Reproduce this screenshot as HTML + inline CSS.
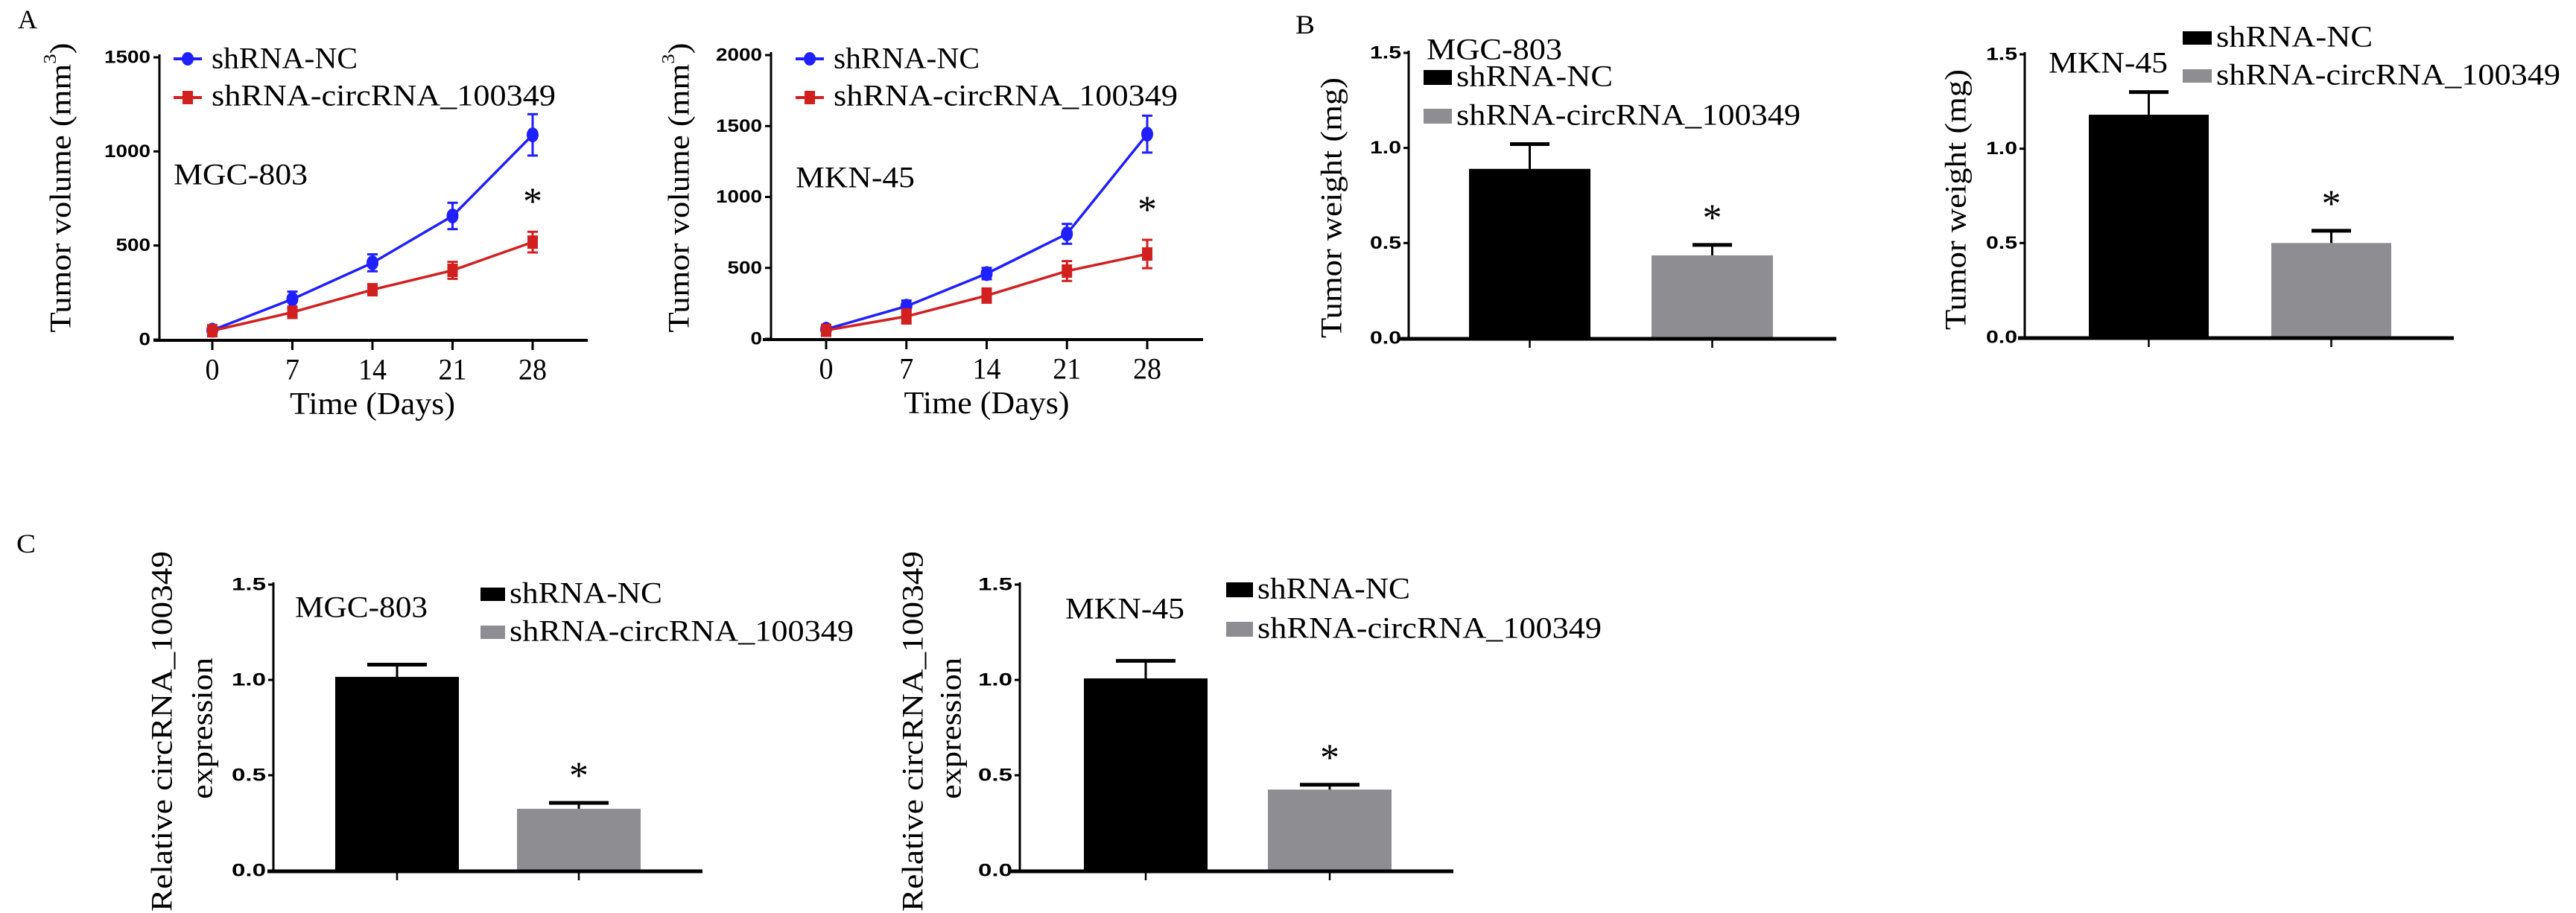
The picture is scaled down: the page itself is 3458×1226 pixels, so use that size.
<!DOCTYPE html>
<html><head><meta charset="utf-8"><style>
html,body{margin:0;padding:0;background:#fff;}
svg{display:block;}
text{font-family:"Liberation Serif",serif;fill:#000;}
.tk{font-family:"Liberation Sans",sans-serif;font-weight:bold;}
</style></head><body>
<svg id="fig" width="3458" height="1226" viewBox="0 0 3458 1226" xmlns="http://www.w3.org/2000/svg"></svg>
<script>
// ---- Data ----
const days = [0, 7, 14, 21, 28];
const mgcVolNC = [50, 215, 408, 657, 1088];
const mgcVolNCErr = [10, 40, 45, 70, 110];
const mgcVolKD = [47, 145, 265, 368, 518];
const mgcVolKDErr = [10, 30, 25, 45, 55];
const mknVolNC = [68, 230, 460, 740, 1443];
const mknVolNCErr = [10, 40, 40, 70, 130];
const mknVolKD = [60, 158, 305, 478, 598];
const mknVolKDErr = [10, 50, 50, 70, 100];
const volTicksA1 = [0, 500, 1000, 1500];
const volTicksA2 = [0, 500, 1000, 1500, 2000];
const barTicks = [0, 0.5, 1.0, 1.5];
const barTickLabels = ["0.0", "0.5", "1.0", "1.5"];
const groups = ["shRNA-NC", "shRNA-circRNA_100349"];
const weightMGC = [0.89, 0.435];
const weightMGCErr = [0.13, 0.055];
const weightMKN = [1.18, 0.50];
const weightMKNErr = [0.12, 0.065];
const exprMGC = [1.016, 0.324];
const exprMGCErr = [0.064, 0.031];
const exprMKN = [1.008, 0.425];
const exprMKNErr = [0.092, 0.025];

const NS = "http://www.w3.org/2000/svg";
const svg = document.getElementById('fig');
function el(tag, attrs, parent, txt) {
  const e = document.createElementNS(NS, tag);
  for (const k in attrs) e.setAttribute(k, attrs[k]);
  if (txt !== undefined) e.textContent = txt;
  (parent || svg).appendChild(e);
  return e;
}
function lin(d0, d1, r0, r1) { return v => r0 + (v - d0) * (r1 - r0) / (d1 - d0); }

function label(x, y, s, size, opts) {
  opts = opts || {};
  const a = {x: x, y: y, 'font-size': size, 'dominant-baseline': 'central'};
  if (opts.anchor) a['text-anchor'] = opts.anchor;
  if (opts.len) { a.textLength = opts.len; a.lengthAdjust = 'spacingAndGlyphs'; }
  if (opts.cls) a['class'] = opts.cls;
  if (opts.rot) a.transform = 'rotate(-90 ' + x + ' ' + y + ')';
  const t = el('text', a, opts.parent, s);
  return t;
}

// panel letters
let t;
t = label(24, 26, 'A', 36, {len: 26});
 
t = label(1739, 33, 'B', 36, {len: 26});
 
t = label(22, 730, 'C', 36, {len: 26});
 

// ---- Line charts ----
function lineChart(cfg) {
  const g = el('g', {});
  
  
  const ys = lin(0, cfg.ymax, cfg.y0, cfg.ytop);
  const xs = lin(0, 28, cfg.xt0, cfg.xt1);
  // axes
  let a = el('line', {x1: cfg.ax, y1: cfg.ytop - 4, x2: cfg.ax, y2: cfg.y0 + 2, stroke: '#000', 'stroke-width': 3}, g);
   
  a = el('line', {x1: cfg.xa0, y1: cfg.y0 + 1, x2: cfg.xa1, y2: cfg.y0 + 1, stroke: '#000', 'stroke-width': 4}, g);
   
  cfg.yticks.forEach(v => {
    el('line', {x1: cfg.ax - 8, y1: ys(v), x2: cfg.ax, y2: ys(v), stroke: '#000', 'stroke-width': 3}, g);
    const s = String(v);
    const tl = label(cfg.ax - 12, ys(v), s, 24, {anchor: 'end', cls: 'tk', len: s.length * 15.5, parent: g});
     
  });
  days.forEach(d => {
    el('line', {x1: xs(d), y1: cfg.y0, x2: xs(d), y2: cfg.y0 + 14, stroke: '#000', 'stroke-width': 3}, g);
    const s = String(d);
    const tl = label(xs(d), cfg.y0 + 40, s, 40, {anchor: 'middle', len: s.length * 19, parent: g});
     
  });
  let tt = label((cfg.xt0 + cfg.xt1) / 2, cfg.y0 + 87, 'Time (Days)', 42, {anchor: 'middle', len: 222, parent: g});
   
  tt = el('text', {x: cfg.titleX, y: 252, 'font-size': 40, 'text-anchor': 'middle', 'dominant-baseline': 'central',
    transform: 'rotate(-90 ' + cfg.titleX + ' 252)', textLength: 389, lengthAdjust: 'spacingAndGlyphs'}, g);
  tt.appendChild(document.createTextNode('Tumor volume (mm'));
  const sup = el('tspan', {'baseline-shift': 'super', 'font-size': 24}, tt, '3');
  tt.appendChild(document.createTextNode(')'));
   
  tt = label(cfg.cellX, cfg.cellY, cfg.cell, 40, {len: cfg.cellLen, parent: g});
   

  function series(vals, errs, color, marker, nm) {
    const sg = el('g', {}, g);
     
    const pts = vals.map((v, i) => xs(days[i]) + ',' + ys(v)).join(' ');
    el('polyline', {points: pts, fill: 'none', stroke: color, 'stroke-width': 3.5}, sg);
    vals.forEach((v, i) => {
      const x = xs(days[i]), yh = ys(v + errs[i]), yl = ys(v - errs[i]);
      el('line', {x1: x, y1: yh, x2: x, y2: yl, stroke: color, 'stroke-width': 3}, sg);
      el('line', {x1: x - 7, y1: yh, x2: x + 7, y2: yh, stroke: color, 'stroke-width': 3}, sg);
      el('line', {x1: x - 7, y1: yl, x2: x + 7, y2: yl, stroke: color, 'stroke-width': 3}, sg);
      let m;
      if (marker === 'c') m = el('ellipse', {cx: x, cy: ys(v), rx: 8, ry: 10, fill: color}, sg);
      else m = el('rect', {x: x - 7, y: ys(v) - 9, width: 14, height: 18, fill: color}, sg);
       
    });
  }
  series(cfg.nc, cfg.ncErr, '#1f1fff', 'c', 'series-shrna-nc');
  series(cfg.kd, cfg.kdErr, '#d21f1f', 's', 'series-shrna-circrna');
  // star
  const last = cfg.kd.length - 1;
  tt = label(xs(days[last]), ys(cfg.kd[last] + cfg.kdErr[last]) - 40, '*', 52, {anchor: 'middle', parent: g});
   
  // legend
  const lx = cfg.lx;
  const lg1 = el('g', {}, g);
   
  el('line', {x1: lx, y1: 79, x2: lx + 38, y2: 79, stroke: '#1f1fff', 'stroke-width': 4}, lg1);
  el('ellipse', {cx: lx + 19, cy: 79, rx: 8, ry: 9, fill: '#1f1fff'}, lg1);
  label(lx + 51, 78, groups[0], 40, {len: 196, parent: lg1});
  const lg2 = el('g', {}, g);
   
  el('line', {x1: lx, y1: 131, x2: lx + 38, y2: 131, stroke: '#d21f1f', 'stroke-width': 4}, lg2);
  el('rect', {x: lx + 12, y: 122, width: 14, height: 18, fill: '#d21f1f'}, lg2);
  label(lx + 51, 128, groups[1], 40, {len: 462, parent: lg2});
}

lineChart({name: 'chart-a-mgc803-volume', ymax: 1500, y0: 456, ytop: 77, ax: 214, xa0: 206, xa1: 789,
  xt0: 285, xt1: 715, yticks: volTicksA1, titleX: 81, cell: 'MGC-803', cellX: 233, cellY: 234, cellLen: 180,
  nc: mgcVolNC, ncErr: mgcVolNCErr, kd: mgcVolKD, kdErr: mgcVolKDErr, lx: 233});
lineChart({name: 'chart-a-mkn45-volume', ymax: 2000, y0: 455, ytop: 74, ax: 1035, xa0: 1024, xa1: 1615,
  xt0: 1109, xt1: 1540, yticks: volTicksA2, titleX: 911, cell: 'MKN-45', cellX: 1068, cellY: 238, cellLen: 160,
  nc: mknVolNC, ncErr: mknVolNCErr, kd: mknVolKD, kdErr: mknVolKDErr, lx: 1068});

// ---- Bar charts ----
function barChart(cfg) {
  const g = el('g', {});
  
  
  const ys = lin(0, 1.5, cfg.y0, cfg.ytop);
  let a = el('line', {x1: cfg.ax, y1: cfg.ytop - 3, x2: cfg.ax, y2: cfg.y0 + 2, stroke: '#000', 'stroke-width': 3}, g);
   
  barTicks.forEach((v, i) => {
    el('line', {x1: cfg.ax - 7, y1: ys(v), x2: cfg.ax, y2: ys(v), stroke: '#000', 'stroke-width': 3}, g);
    const tl = label(cfg.ax - 10, ys(v), barTickLabels[i], 24, {anchor: 'end', cls: 'tk', len: cfg.tickLen, parent: g});
     
  });
  const colors = ['#000', '#8e8e92'];
  cfg.vals.forEach((v, i) => {
    const x0 = cfg.bx[i], w = cfg.bw, cx = x0 + w / 2;
    const b = el('rect', {x: x0, y: ys(v), width: w, height: cfg.y0 - ys(v), fill: colors[i]}, g);
    
    
    const ye = ys(v + cfg.errs[i]);
    el('line', {x1: cx, y1: ys(v), x2: cx, y2: ye, stroke: '#000', 'stroke-width': 3}, g);
    el('line', {x1: cx - cfg.cap / 2, y1: ye, x2: cx + cfg.cap / 2, y2: ye, stroke: '#000', 'stroke-width': 5}, g);
    el('line', {x1: cx, y1: cfg.y0, x2: cx, y2: cfg.y0 + 13, stroke: '#000', 'stroke-width': 2.5}, g);
    if (i === 1) {
      const s = label(cx, ye - 36, '*', 52, {anchor: 'middle', parent: g});
       
    }
  });
  a = el('line', {x1: cfg.xa0, y1: cfg.y0 + 1, x2: cfg.xa1, y2: cfg.y0 + 1, stroke: '#000', 'stroke-width': 5}, g);
   
  // titles
  cfg.titles.forEach(tc => {
    const tt = el('text', {x: tc.x, y: tc.y, 'font-size': 40, 'text-anchor': 'middle', 'dominant-baseline': 'central',
      transform: 'rotate(-90 ' + tc.x + ' ' + tc.y + ')', textLength: tc.len, lengthAdjust: 'spacingAndGlyphs'}, g, tc.s);
     
  });
  let tt = label(cfg.cellX, cfg.cellY, cfg.cell, 40, {len: cfg.cellLen, parent: g});
   
  cfg.legend.forEach((L, i) => {
    const lg = el('g', {}, g);
    
    
    el('rect', {x: L.x, y: L.y - L.h / 2, width: L.w, height: L.h, fill: colors[i]}, lg);
    label(L.x + L.w + 6, L.y - 2, groups[i], 40, {len: i === 0 ? cfg.legLen[0] : cfg.legLen[1], parent: lg});
  });
}

barChart({name: 'chart-b-mgc803-weight', y0: 454, ytop: 71, ax: 1891, xa0: 1879, xa1: 2465, tickLen: 42,
  vals: weightMGC, errs: weightMGCErr, bx: [1972, 2217], bw: 163, cap: 53,
  titles: [{s: 'Tumor weight (mg)', x: 1787, y: 279, len: 350}],
  cell: 'MGC-803', cellX: 1915, cellY: 66, cellLen: 182,
  legend: [{x: 1911, y: 104, w: 38, h: 20}, {x: 1911, y: 156, w: 38, h: 20}], legLen: [210, 462]});
barChart({name: 'chart-b-mkn45-weight', y0: 453, ytop: 73, ax: 2718, xa0: 2709, xa1: 3294, tickLen: 42,
  vals: weightMKN, errs: weightMKNErr, bx: [2804, 3049], bw: 161, cap: 53,
  titles: [{s: 'Tumor weight (mg)', x: 2625, y: 268, len: 350}],
  cell: 'MKN-45', cellX: 2750, cellY: 84, cellLen: 160,
  legend: [{x: 2930, y: 51, w: 39, h: 18}, {x: 2930, y: 102, w: 39, h: 18}], legLen: [210, 462]});
barChart({name: 'chart-c-mgc803-expression', y0: 1169, ytop: 785, ax: 367, xa0: 359, xa1: 943, tickLen: 46,
  vals: exprMGC, errs: exprMGCErr, bx: [450, 694], bw: 166, cap: 80,
  titles: [{s: 'Relative circRNA_100349', x: 217, y: 982, len: 484}, {s: 'expression', x: 271, y: 978, len: 190}],
  cell: 'MGC-803', cellX: 396, cellY: 815, cellLen: 178,
  legend: [{x: 645, y: 798, w: 33, h: 18}, {x: 645, y: 849, w: 33, h: 18}], legLen: [205, 462]});
barChart({name: 'chart-c-mkn45-expression', y0: 1169, ytop: 785, ax: 1369, xa0: 1357, xa1: 1951, tickLen: 46,
  vals: exprMKN, errs: exprMKNErr, bx: [1455, 1702], bw: 166, cap: 80,
  titles: [{s: 'Relative circRNA_100349', x: 1225, y: 982, len: 484}, {s: 'expression', x: 1276, y: 978, len: 190}],
  cell: 'MKN-45', cellX: 1430, cellY: 817, cellLen: 160,
  legend: [{x: 1646, y: 792, w: 36, h: 20}, {x: 1646, y: 845, w: 36, h: 20}], legLen: [205, 462]});
</script>
</body></html>
